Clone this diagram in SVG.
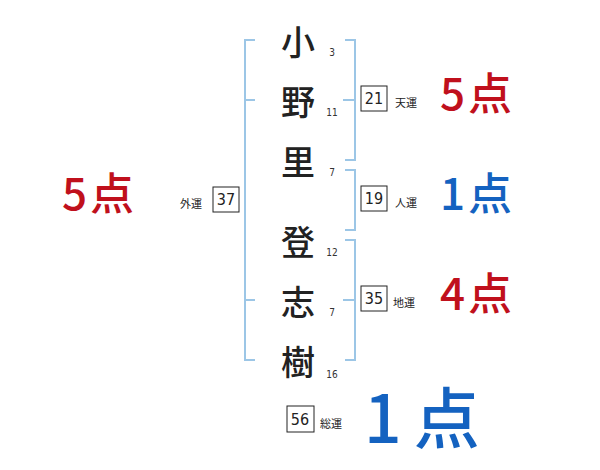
<svg xmlns="http://www.w3.org/2000/svg" width="600" height="470" viewBox="0 0 600 470">
<style>
.br{fill:none;stroke:#9cc6e6;stroke-width:2}
.ch{font-family:"Noto Sans CJK JP","Noto Sans",sans-serif;font-size:34px;font-weight:500;fill:#222;text-anchor:middle}
.sn{font-family:"DejaVu Sans Condensed","Liberation Sans",sans-serif;font-size:10px;fill:#333;text-anchor:middle}
.bx{fill:#fff;stroke:#222;stroke-width:1}
.bn{font-family:"DejaVu Sans Condensed","Liberation Sans",sans-serif;font-size:16px;fill:#222;text-anchor:middle}
.lb{font-family:"Noto Sans CJK JP",sans-serif;font-size:11px;fill:#222}
.sc{font-family:"Noto Sans CJK JP",sans-serif;font-size:44px;font-weight:500}
.red{fill:#c0101c}
.blue{fill:#1462c0}
</style>
<rect width="600" height="470" fill="#fff"/>
<g id="connectors">
<path class="br" d="M255,40 H245 V360 H255 M245,100 H255 M245,300 H255"/>
<path class="br" d="M345,40 H355 V160 H345 M343,100 H355"/>
<path class="br" d="M345,170 H355 V230 H345"/>
<path class="br" d="M345,240 H355 V360 H345 M343,300 H355"/>
</g>
<g id="c1"><text class="ch" x="298" y="55">小</text><text class="sn" x="332" y="56">3</text></g>
<g id="c2"><text class="ch" x="298" y="115">野</text><text class="sn" x="332" y="116">11</text></g>
<g id="c3"><text class="ch" x="298" y="175">里</text><text class="sn" x="332" y="176">7</text></g>
<g id="c4"><text class="ch" x="298" y="255">登</text><text class="sn" x="332" y="256">12</text></g>
<g id="c5"><text class="ch" x="298" y="315">志</text><text class="sn" x="332" y="316">7</text></g>
<g id="c6"><text class="ch" x="298" y="375">樹</text><text class="sn" x="332" y="378">16</text></g>
<g id="gaiun"><rect class="bx" x="213" y="187" width="26" height="25"/><text class="bn" x="226" y="205">37</text><text class="lb" x="180" y="208">外運</text></g>
<g id="tenun"><rect class="bx" x="361" y="86" width="26" height="25"/><text class="bn" x="374" y="104">21</text><text class="lb" x="395" y="107">天運</text></g>
<g id="jinun"><rect class="bx" x="361" y="186" width="26" height="25"/><text class="bn" x="374" y="204">19</text><text class="lb" x="395" y="207">人運</text></g>
<g id="chiun"><rect class="bx" x="361" y="286" width="26" height="25"/><text class="bn" x="374" y="304">35</text><text class="lb" x="393" y="307">地運</text></g>
<g id="soun"><rect class="bx" x="287" y="406" width="27" height="26"/><text class="bn" x="300" y="425">56</text><text class="lb" x="320" y="428">総運</text></g>
<g id="s-gai"><text class="sc red" x="62" y="210">5<tspan dx="3">点</tspan></text></g>
<g id="s-ten"><text class="sc red" x="440" y="110">5<tspan dx="3">点</tspan></text></g>
<g id="s-jin"><text class="sc blue" x="440" y="210">1<tspan dx="3">点</tspan></text></g>
<g id="s-chi"><text class="sc red" x="440" y="310">4<tspan dx="3">点</tspan></text></g>
<g id="s-so"><text class="sc blue" x="364" y="443" style="font-size:66px">1<tspan dx="12">点</tspan></text></g>
</svg>
